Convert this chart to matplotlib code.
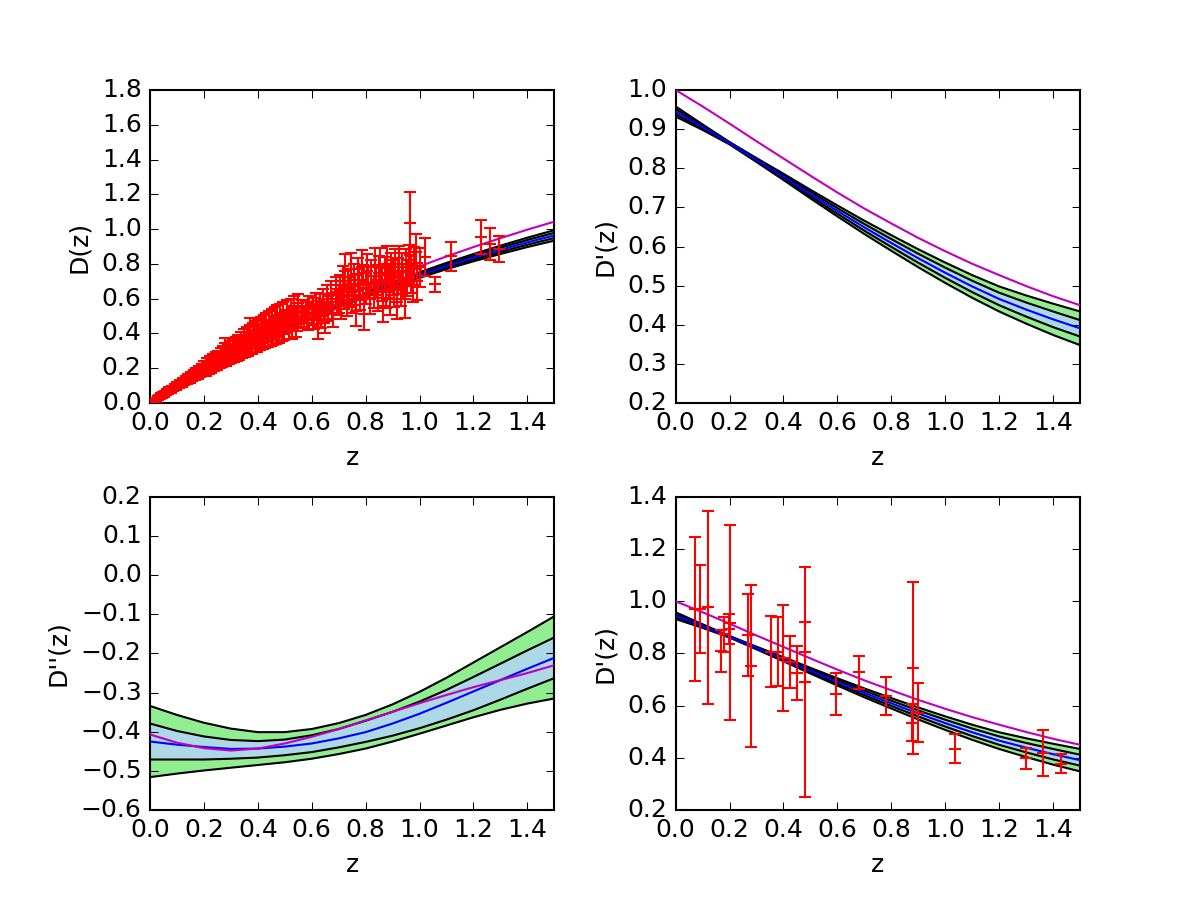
import matplotlib
matplotlib.use("Agg")
import matplotlib.pyplot as plt
import numpy as np

# ---------------- data ----------------
zgrid = [0.0, 0.1, 0.2, 0.3, 0.4, 0.5, 0.6, 0.7, 0.8, 0.9, 1.0, 1.1, 1.2, 1.3, 1.4, 1.5]

# D(z)
D_mean = [0.0, 0.093, 0.181, 0.265, 0.345, 0.421, 0.492, 0.559, 0.622, 0.681, 0.736, 0.788, 0.836, 0.881, 0.924, 0.964]
D_sig1 = [0.0, 0.0005, 0.001, 0.0015, 0.002, 0.0025, 0.0035, 0.0045, 0.0055, 0.0065, 0.008, 0.009, 0.0105, 0.012, 0.0135, 0.015]
D_sig2 = [0.0, 0.001, 0.002, 0.003, 0.004, 0.005, 0.007, 0.009, 0.011, 0.013, 0.016, 0.018, 0.021, 0.024, 0.027, 0.030]
D_lcdm = [0.0, 0.098, 0.192, 0.281, 0.365, 0.446, 0.522, 0.593, 0.661, 0.725, 0.786, 0.843, 0.897, 0.948, 0.997, 1.043]

# D'(z)
Dp_mean = [0.945, 0.905, 0.864, 0.821, 0.778, 0.734, 0.691, 0.649, 0.609, 0.570, 0.533, 0.498, 0.466, 0.439, 0.414, 0.391]
Dp_sig1 = [0.0065, 0.0035, 0.0015, 0.0025, 0.004, 0.0055, 0.007, 0.0085, 0.010, 0.0115, 0.013, 0.0145, 0.016, 0.018, 0.020, 0.021]
Dp_sig2 = [0.013, 0.007, 0.003, 0.005, 0.008, 0.011, 0.014, 0.017, 0.020, 0.023, 0.026, 0.029, 0.032, 0.036, 0.040, 0.043]
Dp_lcdm = [1.0, 0.958, 0.914, 0.869, 0.825, 0.781, 0.738, 0.697, 0.659, 0.622, 0.588, 0.556, 0.527, 0.499, 0.473, 0.450]

# D''(z)
Dpp_mean = [-0.425, -0.433, -0.439, -0.444, -0.443, -0.438, -0.430, -0.417, -0.401, -0.379, -0.354, -0.326, -0.297, -0.268, -0.239, -0.211]
Dpp_up2 = [-0.334, -0.357, -0.377, -0.392, -0.401, -0.401, -0.393, -0.378, -0.357, -0.330, -0.298, -0.262, -0.223, -0.184, -0.145, -0.105]
Dpp_up1 = [-0.379, -0.398, -0.412, -0.421, -0.424, -0.420, -0.409, -0.393, -0.372, -0.349, -0.323, -0.293, -0.260, -0.226, -0.192, -0.159]
Dpp_lo1 = [-0.471, -0.471, -0.471, -0.469, -0.466, -0.460, -0.452, -0.440, -0.426, -0.410, -0.391, -0.369, -0.345, -0.318, -0.290, -0.263]
Dpp_lo2 = [-0.516, -0.507, -0.499, -0.492, -0.485, -0.478, -0.469, -0.457, -0.443, -0.425, -0.405, -0.384, -0.363, -0.344, -0.328, -0.315]
Dpp_lcdm = [-0.407, -0.428, -0.442, -0.448, -0.443, -0.430, -0.413, -0.393, -0.371, -0.349, -0.327, -0.306, -0.286, -0.268, -0.250, -0.230]

# supernova distances, group 1 (z, D, err)
sn_z = [0.012, 0.015, 0.018, 0.021, 0.024, 0.026, 0.030, 0.033, 0.036, 0.040, 0.043, 0.047, 0.050, 0.054,
        0.058, 0.062, 0.066, 0.070, 0.075, 0.080, 0.085, 0.090, 0.095, 0.100,
        0.105, 0.11, 0.115, 0.12, 0.125, 0.13, 0.135, 0.14, 0.145, 0.15, 0.155, 0.16, 0.165, 0.17,
        0.175, 0.18, 0.185, 0.19, 0.195,
        0.20, 0.205, 0.21, 0.215, 0.22, 0.225, 0.23, 0.235, 0.24, 0.245, 0.25, 0.255, 0.26, 0.265,
        0.27, 0.275, 0.278, 0.28, 0.285, 0.29, 0.295, 0.30,
        0.305, 0.31, 0.315, 0.32, 0.325, 0.33, 0.335, 0.34, 0.345, 0.35, 0.355, 0.36, 0.365, 0.37,
        0.375, 0.38, 0.385, 0.39, 0.395, 0.40,
        0.405, 0.41, 0.415, 0.42, 0.43, 0.435, 0.44, 0.45, 0.455, 0.46, 0.465, 0.47, 0.48, 0.485, 0.49, 0.50,
        0.505, 0.51, 0.52, 0.525, 0.53, 0.54, 0.545, 0.55, 0.56, 0.565, 0.57, 0.58, 0.585, 0.59, 0.60,
        0.605, 0.61, 0.615, 0.62, 0.625, 0.63, 0.635, 0.64, 0.645, 0.65, 0.655, 0.66, 0.67, 0.675,
        0.68, 0.69, 0.695, 0.70,
        0.705, 0.71, 0.715, 0.72, 0.725, 0.73, 0.735, 0.74, 0.745, 0.75, 0.755, 0.76, 0.765, 0.77,
        0.775, 0.78, 0.785, 0.79, 0.795, 0.80,
        0.805, 0.81, 0.815, 0.82, 0.83, 0.835, 0.84, 0.845, 0.85, 0.855, 0.86, 0.865, 0.87, 0.875,
        0.88, 0.885, 0.89, 0.895, 0.90,
        0.905, 0.91, 0.915, 0.92, 0.925, 0.93, 0.935, 0.94, 0.945, 0.95, 0.955, 0.96, 0.965, 0.97,
        0.975, 0.98, 0.985, 0.99, 1.0,
        1.019, 1.056, 1.117, 1.228, 1.262, 1.296]
sn_D = [0.012, 0.015, 0.018, 0.021, 0.023, 0.027, 0.029, 0.034, 0.035, 0.040, 0.042, 0.047, 0.051, 0.052,
        0.058, 0.061, 0.066, 0.068, 0.075, 0.078, 0.085, 0.087, 0.094, 0.097,
        0.104, 0.108, 0.115, 0.116, 0.124, 0.127, 0.133, 0.138, 0.140, 0.148, 0.150, 0.159, 0.161, 0.168,
        0.172, 0.178, 0.183, 0.186, 0.193,
        0.190, 0.205, 0.196, 0.212, 0.205, 0.222, 0.215, 0.228, 0.232, 0.226, 0.245, 0.238, 0.252, 0.247,
        0.265, 0.258, 0.345, 0.270, 0.262, 0.282, 0.275, 0.290,
        0.280, 0.300, 0.305, 0.295, 0.318, 0.310, 0.322, 0.330, 0.318, 0.340, 0.345, 0.335, 0.355, 0.390,
        0.350, 0.372, 0.360, 0.380, 0.365, 0.390,
        0.375, 0.400, 0.385, 0.410, 0.395, 0.425, 0.410, 0.430, 0.415, 0.445, 0.430, 0.455, 0.440, 0.465, 0.450, 0.470,
        0.455, 0.480, 0.465, 0.500, 0.478, 0.495, 0.470, 0.515, 0.490, 0.530, 0.500, 0.520, 0.480, 0.545, 0.510,
        0.540, 0.490, 0.560, 0.520, 0.440, 0.555, 0.500, 0.580, 0.530, 0.470, 0.600, 0.545, 0.620, 0.560,
        0.510, 0.640, 0.580, 0.600,
        0.650, 0.560, 0.700, 0.620, 0.760, 0.580, 0.680, 0.640, 0.770, 0.600, 0.710, 0.650, 0.530, 0.740,
        0.680, 0.620, 0.780, 0.700, 0.510, 0.660,
        0.760, 0.690, 0.600, 0.730, 0.640, 0.790, 0.700, 0.620, 0.750, 0.790, 0.680, 0.560, 0.740, 0.640,
        0.800, 0.700, 0.600, 0.760, 0.720,
        0.650, 0.780, 0.580, 0.730, 0.800, 0.660, 0.760, 0.700, 0.600, 0.780, 0.720, 0.800, 1.033, 0.740,
        0.680, 0.790, 0.870, 0.700, 0.780,
        0.840, 0.683, 0.844, 0.955, 0.913, 0.887]
sn_err = [0.002, 0.002, 0.003, 0.003, 0.003, 0.003, 0.004, 0.004, 0.004, 0.005, 0.005, 0.005, 0.006, 0.006,
          0.006, 0.007, 0.007, 0.007, 0.008, 0.008, 0.009, 0.009, 0.010, 0.010,
          0.010, 0.011, 0.011, 0.012, 0.012, 0.013, 0.013, 0.014, 0.014, 0.015, 0.015, 0.016, 0.016, 0.017,
          0.017, 0.018, 0.018, 0.019, 0.019,
          0.018, 0.020, 0.019, 0.022, 0.020, 0.025, 0.022, 0.020, 0.024, 0.022, 0.025, 0.022, 0.026, 0.024,
          0.028, 0.025, 0.030, 0.027, 0.026, 0.030, 0.028, 0.030,
          0.028, 0.030, 0.032, 0.030, 0.034, 0.032, 0.035, 0.034, 0.033, 0.036, 0.035, 0.034, 0.038, 0.100,
          0.036, 0.040, 0.038, 0.042, 0.038, 0.045,
          0.040, 0.045, 0.042, 0.046, 0.044, 0.048, 0.045, 0.050, 0.046, 0.055, 0.048, 0.052, 0.050, 0.055, 0.052, 0.055,
          0.050, 0.056, 0.052, 0.060, 0.055, 0.058, 0.055, 0.062, 0.058, 0.065, 0.060, 0.062, 0.060, 0.068, 0.062,
          0.065, 0.065, 0.070, 0.066, 0.070, 0.070, 0.068, 0.075, 0.070, 0.070, 0.078, 0.072, 0.080, 0.074,
          0.072, 0.082, 0.076, 0.080,
          0.085, 0.078, 0.090, 0.082, 0.095, 0.080, 0.088, 0.085, 0.095, 0.082, 0.090, 0.086, 0.085, 0.095,
          0.090, 0.085, 0.098, 0.092, 0.088, 0.090,
          0.098, 0.092, 0.090, 0.095, 0.092, 0.100, 0.095, 0.090, 0.098, 0.100, 0.095, 0.092, 0.100, 0.095,
          0.105, 0.098, 0.095, 0.102, 0.100,
          0.098, 0.105, 0.095, 0.102, 0.105, 0.100, 0.105, 0.100, 0.110, 0.105, 0.105, 0.110, 0.180, 0.105,
          0.100, 0.110, 0.100, 0.105, 0.110,
          0.110, 0.043, 0.084, 0.098, 0.091, 0.074]

# supernova distances, group 2 (the wider-scattered points at low and intermediate z)
sn2_z = [0.014, 0.017, 0.020, 0.023, 0.028, 0.031, 0.035, 0.038, 0.042, 0.045, 0.049, 0.052, 0.056, 0.060,
         0.064, 0.068, 0.072, 0.077, 0.082, 0.087, 0.092, 0.097, 0.102, 0.107, 0.112, 0.117, 0.122, 0.127,
         0.132, 0.137, 0.142, 0.147, 0.152, 0.157, 0.162, 0.167, 0.172, 0.177, 0.182, 0.187, 0.192, 0.197,
         0.202, 0.208, 0.212, 0.218, 0.223, 0.228, 0.232, 0.238, 0.243, 0.248, 0.252, 0.258, 0.262, 0.268,
         0.272, 0.283, 0.288, 0.292, 0.298, 0.302, 0.308, 0.312, 0.318, 0.322, 0.328, 0.332, 0.338, 0.342,
         0.348, 0.352, 0.358, 0.362, 0.368, 0.372, 0.378, 0.382, 0.388, 0.392, 0.398, 0.402, 0.408, 0.412,
         0.418, 0.422, 0.428, 0.432, 0.438, 0.442, 0.448, 0.452, 0.458, 0.462, 0.468, 0.472, 0.478, 0.482,
         0.488, 0.492, 0.498, 0.508, 0.515, 0.522, 0.528, 0.535, 0.542, 0.548]
sn2_D = [0.016, 0.013, 0.024, 0.019, 0.032, 0.026, 0.039, 0.033, 0.046, 0.040, 0.054, 0.047, 0.061, 0.055,
         0.070, 0.062, 0.078, 0.070, 0.088, 0.080, 0.098, 0.090, 0.108, 0.099, 0.118, 0.108, 0.128, 0.118,
         0.138, 0.126, 0.148, 0.134, 0.158, 0.143, 0.170, 0.152, 0.182, 0.160, 0.190, 0.170, 0.200, 0.176,
         0.215, 0.180, 0.230, 0.190, 0.240, 0.200, 0.250, 0.210, 0.262, 0.220, 0.270, 0.228, 0.285, 0.238,
         0.295, 0.245, 0.305, 0.255, 0.318, 0.262, 0.330, 0.270, 0.340, 0.278, 0.350, 0.285, 0.365, 0.295,
         0.378, 0.300, 0.390, 0.310, 0.320, 0.400, 0.325, 0.410, 0.335, 0.420, 0.340, 0.430, 0.350, 0.440,
         0.355, 0.450, 0.365, 0.460, 0.370, 0.470, 0.378, 0.480, 0.385, 0.490, 0.395, 0.500, 0.400, 0.510,
         0.410, 0.515, 0.420, 0.525, 0.425, 0.535, 0.430, 0.545, 0.440, 0.555]
sn2_err = [0.006, 0.006, 0.007, 0.007, 0.007, 0.008, 0.008, 0.008, 0.009, 0.009, 0.009, 0.010, 0.010, 0.010,
           0.011, 0.011, 0.012, 0.012, 0.012, 0.013, 0.013, 0.013, 0.014, 0.014, 0.015, 0.015, 0.016, 0.016,
           0.016, 0.017, 0.017, 0.018, 0.018, 0.018, 0.019, 0.019, 0.020, 0.020, 0.021, 0.021, 0.022, 0.022,
           0.025, 0.024, 0.028, 0.025, 0.030, 0.026, 0.030, 0.027, 0.032, 0.028, 0.032, 0.028, 0.034, 0.030,
           0.035, 0.030, 0.036, 0.032, 0.038, 0.032, 0.040, 0.034, 0.040, 0.035, 0.042, 0.036, 0.045, 0.038,
           0.046, 0.038, 0.048, 0.040, 0.040, 0.050, 0.042, 0.050, 0.044, 0.052, 0.045, 0.052, 0.046, 0.055,
           0.047, 0.055, 0.048, 0.056, 0.050, 0.058, 0.050, 0.060, 0.052, 0.060, 0.053, 0.062, 0.054, 0.062,
           0.055, 0.064, 0.056, 0.065, 0.058, 0.066, 0.060, 0.068, 0.060, 0.070]

# H(z) data converted to D'(z)
hz_z = [0.070, 0.090, 0.120, 0.170, 0.179, 0.199, 0.200, 0.270, 0.280, 0.352, 0.380, 0.400, 0.4247,
        0.4497, 0.478, 0.480, 0.593, 0.680, 0.781, 0.875, 0.880, 0.900, 1.037, 1.300, 1.363, 1.430]
hz_D = [0.971, 0.970, 0.977, 0.810, 0.874, 0.894, 0.918, 0.870, 0.752, 0.807, 0.807, 0.782, 0.768,
        0.724, 0.805, 0.691, 0.644, 0.728, 0.638, 0.535, 0.744, 0.573, 0.435, 0.398, 0.419, 0.378]
hz_err = [0.277, 0.170, 0.371, 0.080, 0.067, 0.058, 0.374, 0.158, 0.311, 0.137, 0.132, 0.203, 0.100,
          0.103, 0.114, 0.441, 0.080, 0.063, 0.072, 0.071, 0.331, 0.112, 0.056, 0.040, 0.088, 0.038]

xticks = [0.0, 0.2, 0.4, 0.6, 0.8, 1.0, 1.2, 1.4]

# ---------------- plotting ----------------
plt.style.use('classic')
plt.rcParams['font.family'] = ['DejaVu Sans']
fig, axes = plt.subplots(2, 2, figsize=(8, 6), dpi=150)
fig.patch.set_facecolor('white')
plt.subplots_adjust(left=0.125, right=0.9, bottom=0.1, top=0.9, wspace=0.3, hspace=0.3)

z = np.array(zgrid)


def band_plot(ax, mean, lo2, lo1, up1, up2, lcdm):
    ax.fill_between(z, lo2, up2, facecolor='lightgreen', edgecolor='none', zorder=1)
    ax.fill_between(z, lo1, up1, facecolor='lightblue', edgecolor='none', zorder=1.5)
    for c in (lo2, lo1, up1, up2):
        ax.plot(z, c, 'k-', lw=1, zorder=2)
    ax.plot(z, mean, 'b-', lw=1, zorder=3)
    ax.plot(z, lcdm, 'm-', lw=1, zorder=3)


Dm, s1, s2 = np.array(D_mean), np.array(D_sig1), np.array(D_sig2)
Dpm, p1, p2 = np.array(Dp_mean), np.array(Dp_sig1), np.array(Dp_sig2)

eb_kw = dict(fmt='_', color='r', ecolor='r', capsize=3, capthick=1, mew=1, ms=6, elinewidth=1, zorder=4)

# top-left
ax = axes[0, 0]
band_plot(ax, Dm, Dm - s2, Dm - s1, Dm + s1, Dm + s2, D_lcdm)
ax.errorbar(sn2_z, sn2_D, yerr=sn2_err, **eb_kw)
ax.errorbar(sn_z, sn_D, yerr=sn_err, **eb_kw)
ax.set_xlim(0, 1.5)
ax.set_ylim(0, 1.8)
ax.set_yticks(np.arange(0, 1.81, 0.2))
ax.set_ylabel('D(z)')

# top-right
ax = axes[0, 1]
band_plot(ax, Dpm, Dpm - p2, Dpm - p1, Dpm + p1, Dpm + p2, Dp_lcdm)
ax.set_xlim(0, 1.5)
ax.set_ylim(0.2, 1.0)
ax.set_yticks(np.arange(0.2, 1.01, 0.1))
ax.set_ylabel("D'(z)")

# bottom-left
ax = axes[1, 0]
band_plot(ax, Dpp_mean, Dpp_lo2, Dpp_lo1, Dpp_up1, Dpp_up2, Dpp_lcdm)
ax.set_xlim(0, 1.5)
ax.set_ylim(-0.6, 0.2)
ax.set_yticks(np.arange(-0.6, 0.21, 0.1))
ax.set_ylabel("D''(z)")

# bottom-right
ax = axes[1, 1]
band_plot(ax, Dpm, Dpm - p2, Dpm - p1, Dpm + p1, Dpm + p2, Dp_lcdm)
ax.errorbar(hz_z, hz_D, yerr=hz_err, **eb_kw)
ax.set_xlim(0, 1.5)
ax.set_ylim(0.2, 1.4)
ax.set_yticks(np.arange(0.2, 1.41, 0.2))
ax.set_ylabel("D'(z)")

for ax in axes.flat:
    ax.set_xticks(xticks)
    ax.set_xlabel('z')

fig.savefig('out.png', dpi=150, facecolor='white')
